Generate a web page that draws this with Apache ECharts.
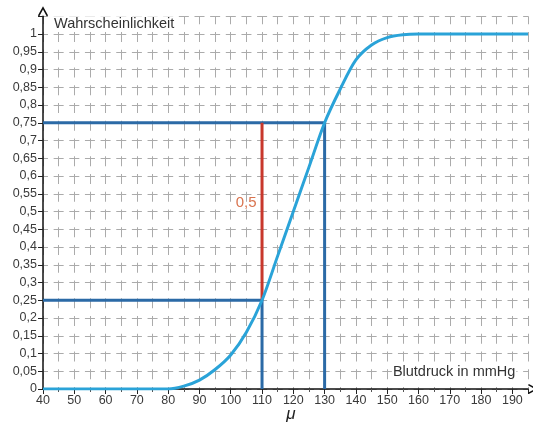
<!DOCTYPE html>
<html>
<head>
<meta charset="utf-8">
<script src="https://cdn.jsdelivr.net/npm/echarts@6/dist/echarts.min.js"></script>
<style>
  html, body { margin: 0; padding: 0; background: #fff; }
  #chart { width: 533px; height: 426px; }
</style>
</head>
<body>
<div id="chart"></div>
<script>
// Blood pressure (mmHg) and cumulative probability of the curve
const pressure = [40, 50, 60, 70, 80, 85, 90, 95, 100, 105, 110, 115, 120, 125, 130, 135, 140, 145, 150, 155, 160, 170, 180, 190, 195];
const probability = [0, 0, 0, 0, 0, 0.008, 0.025, 0.055, 0.096, 0.16, 0.25, 0.375, 0.5, 0.625, 0.75, 0.845, 0.927, 0.969, 0.99, 0.998, 1, 1, 1, 1, 1];

// Reading guides: lower and upper quartile values
const lowerGuide = [[40, 0.25], [110, 0.25], [110, 0]];
const upperGuide = [[40, 0.75], [130, 0.75], [130, 0]];
const spanGuide = [[110, 0.25], [110, 0.75]];
const spanLabel = '0,5';

const xTitle = 'Blutdruck in mmHg';
const yTitle = 'Wahrscheinlichkeit';
const muLabel = 'μ';

const FONT = '"Liberation Sans", Arial, sans-serif';
const GRID_COLOR = '#ababab';
// open chevron used as the axis arrow head
const CHEVRON = 'path://M0,9 L5,0 L10,9 L8.6,9.8 L5,3.2 L1.4,9.8 Z';

const chart = echarts.init(document.getElementById('chart'), null, { renderer: 'canvas' });

const fmtNum = v => String(+v.toFixed(2)).replace('.', ',');

chart.setOption({
  animation: false,
  grid: { left: 43, top: 16.25, width: 485, height: 372.75, containLabel: false },
  xAxis: {
    type: 'value',
    min: 40, max: 195, interval: 10,
    axisLine: { lineStyle: { color: '#111', width: 1.5 }, symbol: ['none', CHEVRON], symbolSize: [11, 10], symbolOffset: [0, 5] },
    axisTick: { show: true, length: 5, lineStyle: { color: '#222' } },
    minorTick: { show: true, splitNumber: 2, length: 3, lineStyle: { color: '#555' } },
    axisLabel: { color: '#3a3a3a', fontFamily: FONT, fontSize: 12.5, margin: 5,
      formatter: v => (v > 190 ? '' : String(v)) },
    splitLine: { show: true, lineStyle: { color: GRID_COLOR, width: 1, type: [10, 7.75], dashOffset: 2 } },
    minorSplitLine: { show: true, lineStyle: { color: GRID_COLOR, width: 1, type: [10, 7.75], dashOffset: 2 } }
  },
  yAxis: {
    type: 'value',
    min: 0, max: 1.05, interval: 0.05,
    axisLine: { show: true, lineStyle: { color: '#111', width: 1.5 }, symbol: ['none', CHEVRON], symbolSize: [11, 10], symbolOffset: [0, 5] },
    axisTick: { show: true, length: 5, lineStyle: { color: '#222' } },
    axisLabel: { color: '#3a3a3a', fontFamily: FONT, fontSize: 12.5, margin: 6,
      formatter: v => (v > 1.001 ? '' : fmtNum(v)) },
    splitLine: { show: true, lineStyle: { color: GRID_COLOR, width: 1, type: [10, 5.65], dashOffset: 5 } }
  },
  series: [
    {
      type: 'line', data: lowerGuide, symbol: 'none', z: 3,
      lineStyle: { color: '#2b6aa6', width: 3 }
    },
    {
      type: 'line', data: upperGuide, symbol: 'none', z: 3,
      lineStyle: { color: '#2b6aa6', width: 3 }
    },
    {
      type: 'line', data: spanGuide, symbol: 'none', z: 4,
      lineStyle: { color: '#c8382c', width: 3 },
      markPoint: {
        symbol: 'circle', symbolSize: 1,
        itemStyle: { color: 'transparent' },
        data: [{ coord: [110, (spanGuide[0][1] + spanGuide[1][1]) / 2 + 0.025] }],
        label: { show: true, formatter: spanLabel, position: 'left', distance: 5,
          color: '#d9744f', fontFamily: FONT, fontSize: 15 }
      }
    },
    {
      type: 'line', data: pressure.map((x, i) => [x, probability[i]]),
      symbol: 'none', smooth: 0.3, z: 5,
      lineStyle: { color: '#2aa3d8', width: 3 }
    }
  ]
});

// Axis titles placed from the axis scales
const pYT = chart.convertToPixel({ gridIndex: 0 }, [40, 1.05]);
const pXT = chart.convertToPixel({ gridIndex: 0 }, [190, 0]);
const pMu = chart.convertToPixel({ gridIndex: 0 }, [120, 0]);

chart.setOption({
  graphic: [
    {
      type: 'text', left: pYT[0] + 10, top: pYT[1] + 0, z: 10,
      style: { text: yTitle, fill: '#333', font: '14.5px ' + FONT,
        backgroundColor: '#fff', padding: [0, 1] }
    },
    {
      type: 'text', right: 533 - pXT[0] - 4, top: pXT[1] - 25, z: 10,
      style: { text: xTitle, fill: '#333', font: '14.5px ' + FONT,
        backgroundColor: '#fff', padding: [0, 1] }
    },
    {
      type: 'text', left: pMu[0] - 7, top: pMu[1] + 17, z: 10,
      style: { text: muLabel, fill: '#222', font: 'italic 17px ' + FONT }
    }
  ]
});
</script>
</body>
</html>
